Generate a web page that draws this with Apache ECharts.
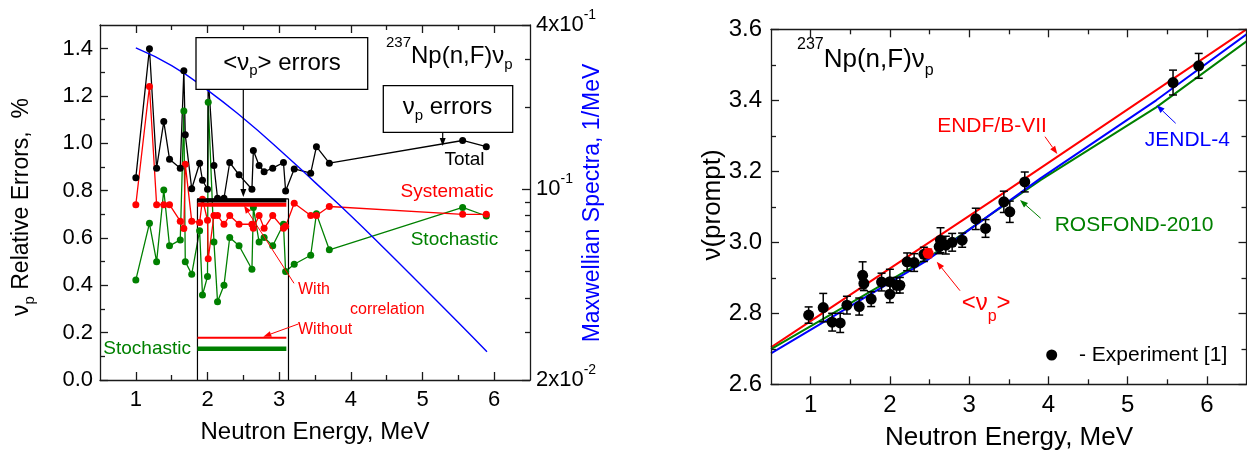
<!DOCTYPE html>
<html><head><meta charset="utf-8">
<script src="https://cdn.jsdelivr.net/npm/echarts@6/dist/echarts.min.js"></script>
<style>html,body{margin:0;padding:0;background:#fff}#c{width:1247px;height:455px}</style>
</head><body><div id="c"></div>
<script>
// ---------- Left panel data ----------
const energy = [1.00,1.19,1.29,1.39,1.47,1.62,1.67,1.69,1.78,1.89,1.93,2.00,2.01,2.09,2.14,2.23,2.31,2.44,2.62,2.64,2.72,2.79,2.91,3.06,3.09,3.21,3.44,3.52,3.70,5.56,5.89];
const totalErr = [0.855,1.40,0.895,1.092,0.933,0.895,1.307,1.036,0.808,0.916,0.844,0.806,1.28,0.906,0.768,0.768,0.919,0.867,0.806,0.970,0.906,0.880,0.895,0.919,0.799,0.892,0.874,0.986,0.916,1.012,0.986];
const systematicErr = [0.741,1.24,0.741,0.741,0.741,0.671,0.640,0.912,0.671,0.665,0.764,0.675,0.512,0.695,0.695,0.658,0.695,0.658,0.658,0.641,0.695,0.641,0.695,0.641,0.650,0.747,0.695,0.695,0.733,0.700,0.700];
const stochasticErr = [0.423,0.662,0.500,0.803,0.567,0.592,1.137,0.500,0.447,0.631,0.359,0.437,1.174,0.583,0.331,0.400,0.602,0.567,0.468,0.729,0.583,0.602,0.567,0.658,0.458,0.489,0.527,0.702,0.550,0.729,0.693];
const avgEnergy = [1.86, 3.10];
const avgTotal = [0.758, 0.758];
const avgSysWith = [0.741, 0.741];
const avgSysWithout = [0.178, 0.178];
const avgStoch = [0.132, 0.132];
const boxEnergy = [1.86, 1.86, 3.13, 3.13];
const boxErr = [0, 0.765, 0.765, 0];
const maxwellE = [1.0,1.5,2.0,2.5,3.0,3.5,4.0,4.5,5.0,5.5,5.9];
const maxwellVal = [0.33,0.284,0.231,0.182,0.140,0.106,0.080,0.0595,0.044,0.0325,0.0254];
// ---------- Right panel data ----------
const expE = [0.975,1.159,1.272,1.373,1.458,1.613,1.656,1.672,1.764,1.895,2.0,2.0,2.084,2.126,2.218,2.306,2.429,2.622,2.639,2.706,2.786,2.912,3.084,3.207,3.438,3.513,3.702,5.573,5.897];
const expNu = [2.795,2.816,2.775,2.773,2.823,2.819,2.907,2.884,2.840,2.888,2.854,2.889,2.879,2.879,2.945,2.943,2.966,2.988,3.006,2.992,3.000,3.006,3.066,3.039,3.114,3.086,3.170,3.450,3.497];
const expErr = [0.023,0.040,0.025,0.027,0.025,0.024,0.038,0.020,0.021,0.025,0.024,0.035,0.022,0.022,0.025,0.025,0.020,0.020,0.035,0.025,0.025,0.020,0.030,0.025,0.030,0.030,0.028,0.035,0.035];
const avgNuE = [2.483];
const avgNu = [2.969];
const avgNuErr = [0.012];
const endfE = [0.5,3.3,6.5];
const endfNu = [2.704,3.119,3.600];
const jendlE = [0.5,2.44,3.9,5.36,6.5];
const jendlNu = [2.687,2.945,3.18,3.40,3.586];
const rosfondE = [0.5,2.44,3.9,5.36,6.5];
const rosfondNu = [2.699,2.95,3.175,3.38,3.566];
// ---------- Ticks ----------
const xTicks = [1,2,3,4,5,6];
const xMinor = [1.5,2.5,3.5,4.5,5.5];
const errTicks = [0,0.2,0.4,0.6,0.8,1.0,1.2,1.4];
const errMinor = [0.1,0.3,0.5,0.7,0.9,1.1,1.3];
const specTicks = [0.02,0.1,0.4];
const specMinor = [0.03,0.04,0.05,0.06,0.07,0.08,0.09,0.2,0.3];
const nuTicks = [2.6,2.8,3.0,3.2,3.4,3.6];
const nuMinor = [2.7,2.9,3.1,3.3,3.5];

const FF = "'Liberation Sans', Arial, sans-serif";
const RED = '#ff0000', GREEN = '#008000', BLUE = '#0000ff';
const L10 = Math.log10;
const zip = (a, b) => a.map((v, i) => [v, b[i]]);
const specMin = L10(0.02), specMax = L10(0.4);
const specLabelVals = specTicks.map((v, i) => i === 0 ? L10(v) + 1e-9 : (i === specTicks.length - 1 ? L10(v) - 1e-9 : L10(v)));

function ax(o) {
  return {
    type: 'value', gridIndex: o.g, position: o.pos, min: o.min, max: o.max,
    splitLine: {show: false}, axisPointer: {show: false},
    axisLine: {show: !!o.line, onZero: false, lineStyle: {color: '#1a1a1a', width: 1.3}},
    axisTick: {show: true, inside: true, length: o.len, customValues: o.ticks, lineStyle: {color: '#1a1a1a', width: 1.3}},
    axisLabel: o.labels ? {show: true, customValues: o.labels, margin: o.margin, fontSize: o.fs, color: '#000', fontFamily: FF, formatter: o.fmt, rich: o.rich} : {show: false},
    z: 10
  };
}

const xAxis = [
  ax({g:0,pos:'bottom',min:0.5,max:6.5,ticks:xTicks,len:8,line:true,labels:xTicks,margin:9,fs:22,fmt:v=>String(v)}),
  ax({g:0,pos:'bottom',min:0.5,max:6.5,ticks:xMinor,len:5}),
  ax({g:0,pos:'top',min:0.5,max:6.5,ticks:xTicks,len:8,line:true}),
  ax({g:0,pos:'top',min:0.5,max:6.5,ticks:xMinor,len:5}),
  ax({g:1,pos:'bottom',min:0.5,max:6.5,ticks:xTicks,len:8,line:true,labels:xTicks,margin:9,fs:24,fmt:v=>String(v)}),
  ax({g:1,pos:'bottom',min:0.5,max:6.5,ticks:xMinor,len:5}),
  ax({g:1,pos:'top',min:0.5,max:6.5,ticks:xTicks,len:8,line:true}),
  ax({g:1,pos:'top',min:0.5,max:6.5,ticks:xMinor,len:5})
];
const yAxis = [
  ax({g:0,pos:'left',min:0,max:1.5,ticks:errTicks,len:8,line:true,labels:errTicks,margin:7,fs:22,fmt:v=>v.toFixed(1)}),
  ax({g:0,pos:'left',min:0,max:1.5,ticks:errMinor,len:5}),
  ax({g:0,pos:'right',min:specMin,max:specMax,ticks:specTicks.map(L10),len:8,line:true,labels:specLabelVals,margin:6,fs:22,
      fmt:v=>{const p=Math.pow(10,v); if(Math.abs(p-0.02)<1e-4) return '{m|2x10}{s|-2}'; if(Math.abs(p-0.1)<1e-4) return '{m|10}{s|-1}'; return '{m|4x10}{s|-1}';},
      rich:{m:{fontSize:22,fontFamily:FF,color:'#000',lineHeight:34},s:{fontSize:14,fontFamily:FF,color:'#000',lineHeight:14,verticalAlign:'top'}}}),
  ax({g:0,pos:'right',min:specMin,max:specMax,ticks:specMinor.map(L10),len:5}),
  ax({g:1,pos:'left',min:2.6,max:3.6,ticks:nuTicks,len:8,line:true,labels:nuTicks,margin:9,fs:24,fmt:v=>v.toFixed(1)}),
  ax({g:1,pos:'left',min:2.6,max:3.6,ticks:nuMinor,len:5}),
  ax({g:1,pos:'right',min:2.6,max:3.6,ticks:nuTicks,len:8,line:true}),
  ax({g:1,pos:'right',min:2.6,max:3.6,ticks:nuMinor,len:5})
];

function lineS(data, color, w, xi, yi, sym, extra) {
  return Object.assign({
    type: 'line', xAxisIndex: xi, yAxisIndex: yi, data: data,
    lineStyle: {color: color, width: w}, itemStyle: {color: color, borderWidth: 0, opacity: 1},
    symbol: sym ? 'circle' : 'none', symbolSize: 7, showSymbol: !!sym, animation: false, z: 3
  }, extra || {});
}

function errBars(xs, ys, es, color) {
  return {
    type: 'custom', xAxisIndex: 4, yAxisIndex: 4, animation: false, z: 4,
    data: xs.map((x, i) => [x, ys[i], es[i]]),
    encode: {x: 0, y: 1},
    renderItem: function (params, api) {
      const x = api.value(0), y = api.value(1), e = api.value(2);
      const t = api.coord([x, y + e]), b = api.coord([x, y - e]);
      const cw = 4, st = {stroke: color, lineWidth: 1.5};
      return {type: 'group', children: [
        {type: 'line', shape: {x1: t[0], y1: t[1], x2: b[0], y2: b[1]}, style: st},
        {type: 'line', shape: {x1: t[0] - cw, y1: t[1], x2: t[0] + cw, y2: t[1]}, style: st},
        {type: 'line', shape: {x1: b[0] - cw, y1: b[1], x2: b[0] + cw, y2: b[1]}, style: st}
      ]};
    }
  };
}

const series = [
  lineS(zip(energy, stochasticErr), GREEN, 1.3, 0, 0, true),
  lineS(zip(energy, systematicErr), RED, 1.3, 0, 0, true),
  lineS(zip(energy, totalErr), '#000', 1.3, 0, 0, true),
  lineS(zip(maxwellE, maxwellVal.map(L10)), BLUE, 1.4, 0, 2, false, {smooth: true}),
  lineS(zip(boxEnergy, boxErr), '#000', 1.2, 0, 0, false),
  lineS(zip(avgEnergy, avgTotal), '#000', 4, 0, 0, false, {z: 5}),
  lineS(zip(avgEnergy, avgSysWith), RED, 4, 0, 0, false, {z: 5}),
  lineS(zip(avgEnergy, avgSysWithout), RED, 2, 0, 0, false, {z: 5}),
  lineS(zip(avgEnergy, avgStoch), GREEN, 4.5, 0, 0, false, {z: 5}),
  lineS(zip(endfE, endfNu), RED, 2, 4, 4, false),
  lineS(zip(rosfondE, rosfondNu), GREEN, 2, 4, 4, false),
  lineS(zip(jendlE, jendlNu), BLUE, 2, 4, 4, false),
  errBars(expE, expNu, expErr, '#000'),
  errBars(avgNuE, avgNu, avgNuErr, RED),
  {type: 'scatter', xAxisIndex: 4, yAxisIndex: 4, data: zip(expE, expNu), symbol: 'circle', symbolSize: 11, itemStyle: {color: '#000', opacity: 1}, animation: false, z: 5},
  {type: 'scatter', xAxisIndex: 4, yAxisIndex: 4, data: zip(avgNuE, avgNu), symbol: 'circle', symbolSize: 11, itemStyle: {color: RED, opacity: 1}, animation: false, z: 6}
];

// ---------- annotation helpers ----------
const mctx = document.createElement('canvas').getContext('2d');
function tw(t, s) { mctx.font = s + 'px ' + FF; return mctx.measureText(t).width; }
function label(x, y, parts, color, align, rot) {
  const total = parts.reduce((a, p) => a + tw(p.t, p.s), 0);
  let cx = align === 'center' ? -total / 2 : (align === 'right' ? -total : 0);
  const children = parts.map(p => {
    const el = {type: 'text', x: cx, y: p.dy || 0, z: 100,
      style: {text: p.t, fill: color, font: p.s + 'px ' + FF, textAlign: 'left', textVerticalAlign: 'middle'}};
    cx += tw(p.t, p.s);
    return el;
  });
  return {type: 'group', x: x, y: y, rotation: rot || 0, z: 100, children: children};
}
function txt(x, y, t, s, color, align) { return label(x, y, [{t: t, s: s}], color, align || 'left'); }
function arrow(x1, y1, x2, y2, color, w) {
  const a = Math.atan2(y2 - y1, x2 - x1), L = 8, W = 3;
  const bx = x2 - L * Math.cos(a), by = y2 - L * Math.sin(a);
  return [
    {type: 'line', z: 100, shape: {x1: x1, y1: y1, x2: bx, y2: by}, style: {stroke: color, lineWidth: w}},
    {type: 'polygon', z: 100, shape: {points: [[x2, y2], [bx + W * Math.sin(a), by - W * Math.cos(a)], [bx - W * Math.sin(a), by + W * Math.cos(a)]]}, style: {fill: color}}
  ];
}
function box(x, y, w, h) { return {type: 'rect', z: 99, shape: {x: x, y: y, width: w, height: h}, style: {fill: '#fff', stroke: '#000', lineWidth: 1.3}}; }

const graphics = [].concat(
  // left panel
  [box(196, 37.7, 171.7, 51.6)],
  [label(282, 63, [{t: '<ν', s: 24}, {t: 'p', s: 15, dy: 8}, {t: '> errors', s: 24}], '#000', 'center')],
  arrow(243.3, 89.3, 243.3, 197, '#000', 1.2),
  [box(383.3, 85.7, 129.4, 46.6)],
  [label(447.5, 107, [{t: 'ν', s: 24}, {t: 'p', s: 15, dy: 9}, {t: ' errors', s: 24}], '#000', 'center')],
  arrow(442.7, 132.3, 442.7, 146, '#000', 1.2),
  [label(386, 56, [{t: '237', s: 15, dy: -13}, {t: 'Np(n,F)ν', s: 24}, {t: 'p', s: 15, dy: 9}], '#000', 'left')],
  [txt(464.5, 159.5, 'Total', 19, '#000', 'center')],
  [txt(447, 191.7, 'Systematic', 19, RED, 'center')],
  [txt(454.5, 240, 'Stochastic', 19, GREEN, 'center')],
  [txt(103.3, 348.3, 'Stochastic', 19, GREEN, 'left')],
  [txt(298, 290, 'With', 16, RED, 'left')],
  [txt(350, 309.3, 'correlation', 16, RED, 'left')],
  [txt(298, 330, 'Without', 16, RED, 'left')],
  arrow(294, 283.3, 244, 205.5, RED, 1),
  arrow(298.3, 324, 263.3, 336.7, RED, 1),
  [label(22, 207, [{t: 'ν', s: 23}, {t: 'p', s: 15, dy: 8}, {t: ' Relative Errors,  %', s: 23}], '#000', 'center', Math.PI / 2)],
  [label(593, 203, [{t: 'Maxwellian Spectra, 1/MeV', s: 23}], BLUE, 'center', Math.PI / 2)],
  [txt(315, 432, 'Neutron Energy, MeV', 24, '#000', 'center')],
  // right panel
  [label(797, 60, [{t: '237', s: 16, dy: -15}, {t: 'Np(n,F)ν', s: 26}, {t: 'p', s: 16, dy: 11}], '#000', 'left')],
  [txt(992, 126.7, 'ENDF/B-VII', 21, RED, 'center')],
  arrow(1045, 136.7, 1057.3, 154, RED, 1),
  [txt(1187.3, 140, 'JENDL-4', 21, BLUE, 'center')],
  arrow(1175.7, 123.3, 1156.7, 105.3, BLUE, 1),
  [txt(1134, 225, 'ROSFOND-2010', 21, GREEN, 'center')],
  arrow(1040.7, 218.3, 1020, 200, GREEN, 1),
  [label(961.7, 303.3, [{t: '<ν', s: 24}, {t: 'p', s: 16, dy: 13}, {t: '>', s: 24}], RED, 'left')],
  arrow(960, 290.7, 936.7, 261.7, RED, 1),
  [{type: 'circle', z: 100, shape: {cx: 1051.7, cy: 355, r: 5.5}, style: {fill: '#000'}}],
  [txt(1079, 355, '- Experiment [1]', 21, '#000', 'left')],
  [label(713, 205, [{t: 'ν(prompt)', s: 26}], '#000', 'center', Math.PI / 2)],
  [txt(1009, 438, 'Neutron Energy, MeV', 26, '#000', 'center')]
);

const chart = echarts.init(document.getElementById('c'), null, {renderer: 'canvas'});
chart.setOption({
  animation: false,
  backgroundColor: '#fff',
  textStyle: {fontFamily: FF},
  grid: [
    {left: 100, top: 25, width: 430, height: 355, containLabel: false, outerBoundsMode: 'none'},
    {left: 771, top: 29.3, width: 475.5, height: 355, containLabel: false, outerBoundsMode: 'none'}
  ],
  xAxis: xAxis,
  yAxis: yAxis,
  series: series,
  graphic: {elements: graphics}
});
</script></body></html>
